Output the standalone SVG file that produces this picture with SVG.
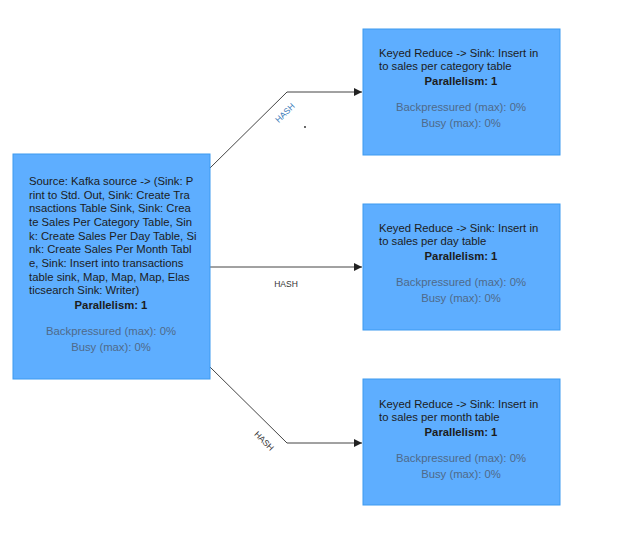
<svg xmlns="http://www.w3.org/2000/svg" width="643" height="539" viewBox="0 0 643 539">
<style>
.node{fill:#5eaeff;stroke:#3d9af0;stroke-width:1}
.t{font-family:"Liberation Sans",Arial,sans-serif;font-size:11.3px;fill:#1c1c1c}
.b{font-weight:bold;text-anchor:middle}
.s{fill:#4f6a8a;text-anchor:middle}
.e{fill:none;stroke:#444;stroke-width:1}
.lbl{font-family:"Liberation Sans",Arial,sans-serif;font-size:8.5px;fill:#333;text-anchor:middle}
</style>
<defs>
<marker id="arr" viewBox="0 0 10 10" refX="10" refY="5" markerWidth="10" markerHeight="8" markerUnits="userSpaceOnUse" orient="auto">
<path d="M0,0 L10,5 L0,10 z" fill="#222"/>
</marker>
</defs>
<rect width="643" height="539" fill="#fff"/>
<g id="connectors">
<path class="e" d="M210,168 L287,92 L362,92" marker-end="url(#arr)"/>
<path class="e" d="M210,267 L362,267" marker-end="url(#arr)"/>
<path class="e" d="M210,367 L287,443 L362,443" marker-end="url(#arr)"/>
<text class="lbl" style="fill:#3a7ab8" transform="translate(287,115) rotate(-45)">HASH</text>
<text class="lbl" x="286" y="287">HASH</text>
<text class="lbl" transform="translate(262,443) rotate(45)">HASH</text>
<circle cx="305" cy="127" r="0.9" fill="#222"/>
</g>
<g id="source">
<rect class="node" x="13" y="154" width="197" height="225"/>
<text class="t" x="29" y="185">Source: Kafka source -&gt; (Sink: P</text>
<text class="t" x="29" y="199">rint to Std. Out, Sink: Create Tra</text>
<text class="t" x="29" y="212">nsactions Table Sink, Sink: Crea</text>
<text class="t" x="29" y="226">te Sales Per Category Table, Sin</text>
<text class="t" x="29" y="240">k: Create Sales Per Day Table, Si</text>
<text class="t" x="29" y="253">nk: Create Sales Per Month Tabl</text>
<text class="t" x="29" y="267">e, Sink: Insert into transactions</text>
<text class="t" x="29" y="281">table sink, Map, Map, Map, Elas</text>
<text class="t" x="29" y="294">ticsearch Sink: Writer)</text>
<text class="t b" x="111" y="309">Parallelism: 1</text>
<text class="t s" x="111" y="335">Backpressured (max): 0%</text>
<text class="t s" x="111" y="351">Busy (max): 0%</text>
</g>
<g id="category">
<rect class="node" x="363" y="29" width="197" height="126"/>
<text class="t" x="379" y="57">Keyed Reduce -&gt; Sink: Insert in</text>
<text class="t" x="379" y="70">to sales per category table</text>
<text class="t b" x="461" y="85">Parallelism: 1</text>
<text class="t s" x="461" y="111">Backpressured (max): 0%</text>
<text class="t s" x="461" y="127">Busy (max): 0%</text>
</g>
<g id="day">
<rect class="node" x="363" y="204" width="197" height="126"/>
<text class="t" x="379" y="232">Keyed Reduce -&gt; Sink: Insert in</text>
<text class="t" x="379" y="245">to sales per day table</text>
<text class="t b" x="461" y="260">Parallelism: 1</text>
<text class="t s" x="461" y="286">Backpressured (max): 0%</text>
<text class="t s" x="461" y="302">Busy (max): 0%</text>
</g>
<g id="month">
<rect class="node" x="363" y="379" width="197" height="126"/>
<text class="t" x="379" y="408">Keyed Reduce -&gt; Sink: Insert in</text>
<text class="t" x="379" y="421">to sales per month table</text>
<text class="t b" x="461" y="436">Parallelism: 1</text>
<text class="t s" x="461" y="462">Backpressured (max): 0%</text>
<text class="t s" x="461" y="478">Busy (max): 0%</text>
</g>
</svg>
